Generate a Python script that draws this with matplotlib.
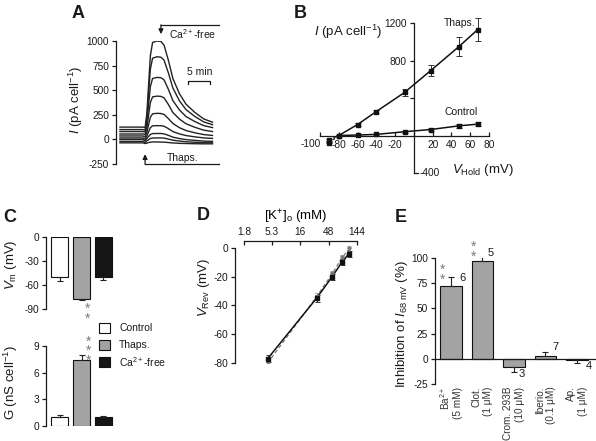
import matplotlib
matplotlib.use('Agg')
import matplotlib.pyplot as plt
from matplotlib.patches import Rectangle

plt.rcParams['font.family'] = ['Liberation Sans', 'DejaVu Sans']
plt.rcParams['mathtext.fontset'] = 'custom'
plt.rcParams['mathtext.rm'] = 'Liberation Sans'
plt.rcParams['mathtext.it'] = 'Liberation Sans:italic'
plt.rcParams['mathtext.bf'] = 'Liberation Sans:bold'
plt.rcParams['axes.unicode_minus'] = False
plt.rcParams['axes.linewidth'] = 0.9
plt.rcParams['xtick.major.width'] = 0.9
plt.rcParams['ytick.major.width'] = 0.9
plt.rcParams['xtick.major.size'] = 3
plt.rcParams['ytick.major.size'] = 3
plt.rcParams['xtick.major.pad'] = 2.5
plt.rcParams['ytick.major.pad'] = 2.0
plt.rcParams['xtick.labelsize'] = 7.3
plt.rcParams['ytick.labelsize'] = 7.3
TXT = '#1a1a1a'
plt.rcParams['text.color'] = TXT
plt.rcParams['xtick.color'] = TXT
plt.rcParams['ytick.color'] = TXT
plt.rcParams['axes.edgecolor'] = TXT

# ---------------- data ----------------
# Panel A: current traces (time in min, current in pA/cell)
t_A = [0, 5.2, 5.7, 6.1, 6.5, 6.9, 7.4, 8.4, 9.3, 10, 11, 12, 13.5, 15, 17, 19, 21]
trace1 = [125, 125, 120, 260, 560, 850, 985, 1000, 995, 958, 802, 620, 464, 357, 274, 208, 175]
trace2 = [100, 100, 95, 211, 470, 714, 825, 840, 835, 805, 674, 523, 392, 302, 233, 178, 150]
trace3 = [80, 80, 75, 162, 355, 537, 619, 630, 627, 605, 508, 395, 299, 232, 181, 140, 120]
trace4 = [55, 55, 48, 113, 248, 375, 432, 440, 437, 422, 354, 274, 206, 159, 123, 94, 80]
trace5 = [35, 35, 25, 70, 150, 226, 260, 265, 263, 254, 211, 162, 119, 90, 67, 49, 40]
trace6 = [15, 15, 2, 34, 78, 119, 138, 140, 139, 134, 109, 80, 56, 39, 26, 15, 10]
trace7 = [0, 0, -15, 9, 30, 50, 59, 60, 60, 56, 41, 23, 8, -2, -10, -17, -20]
trace8 = [-20, -20, -32, -15, -3, 9, 14, 15, 15, 13, 3, -8, -17, -24, -29, -33, -35]
trace9 = [-35, -35, -42, -38, -32, -28, -26, -26, -27, -28, -32, -36, -40, -42, -44, -45, -45]
A_yticks = [-250, 0, 250, 500, 750, 1000]

# Panel B: I-V relation
V_B = [-90, -80, -60, -40, -10, 18, 48, 68]
thaps_I = [-75, 0, 117, 256, 459, 693, 949, 1130]
thaps_err = [10, 10, 15, 20, 35, 60, 100, 120]
ctrl_I = [-45, 0, 5, 12, 40, 64, 103, 121]
ctrl_err = [10, 5, 5, 8, 10, 15, 20, 20]
B_xticks = [-100, -80, -60, -40, -20, 0, 20, 40, 60, 80]

# Panel C: membrane potential and conductance
C_groups = ['Control', 'Thaps.', 'Ca$^{2+}$-free']
C_colors = ['white', '#a3a3a3', '#151515']
vm_vals = [-50, -77, -50]
vm_err = [5, 1.5, 4]
g_vals = [1.0, 7.4, 1.0]
g_err = [0.25, 0.6, 0.12]

# Panel D: reversal potential vs [K+]o
K_D = [4.5, 30, 55, 80, 105]
vrev = [-77, -35, -20, -10, -4]
vrev_err = [2.5, 2.5, 2, 2, 2]
vrev_ref = [-80, -34, -18, -7, -1]
D_xticks = [1.8, 5.3, 16, 48, 144]
D_xticklabels = ['1.8', '5.3', '16', '48', '144']

# Panel E: inhibition
drugs = ['Ba$^{2+}$\n(5 mM)', 'Clot.\n(1 μM)', 'Crom. 293B\n(10 μM)',
         'Iberio.\n(0.1 μM)', 'Ap.\n(1 μM)']
inhib = [72, 97, -8, 3, -1]
inhib_err = [9, 4, 5, 4, 3]
n_vals = ['6', '5', '3', '7', '4']

# ---------------- figure ----------------
W, H = 596, 441
fig = plt.figure(figsize=(W / 100, H / 100), dpi=100)


def add_ax(l, t, r, b):
    return fig.add_axes([l / W, 1 - b / H, (r - l) / W, (b - t) / H])


def fx(x):
    return x / W


def fy(y):
    return 1 - y / H


def ylab(x, y, s):
    fig.text(fx(x), fy(y), s, rotation=90, ha='center', va='center', fontsize=9.5)


STAR = '#7a7a7a'

# Panel letters
for lab, x, y in [('A', 78, 14), ('B', 300, 13), ('C', 10, 218), ('D', 203, 216), ('E', 401, 217)]:
    fig.text(fx(x), fy(y), lab, fontsize=13, fontweight='bold', ha='center', va='center')

# ---- Panel A ----
axA = add_ax(116, 41, 220, 164)
for tr in [trace1, trace2, trace3, trace4, trace5, trace6, trace7, trace8, trace9]:
    axA.plot(t_A, tr, color='#222222', lw=1.0)
axA.set_xlim(-0.9, 22.7)
axA.set_ylim(-250, 1000)
for s in ['top', 'right', 'bottom']:
    axA.spines[s].set_visible(False)
axA.set_xticks([])
axA.set_yticks(A_yticks)
axA.set_yticklabels([str(v) for v in A_yticks])
ylab(76, 100, r'$I$ (pA cell$^{-1}$)')
# Ca-free bar
axA.plot([9.3, 22.5], [1162, 1162], color=TXT, lw=0.9, clip_on=False)
axA.annotate('', xy=(9.3, 1070), xytext=(9.3, 1165), annotation_clip=False,
             arrowprops=dict(arrowstyle='-|>', color=TXT, lw=0.9, mutation_scale=7, shrinkA=0, shrinkB=0))
axA.text(11.2, 1075, 'Ca$^{2+}$-free', fontsize=7.5, ha='left', va='center')
# Thaps bar
axA.plot([5.7, 22.5], [-250, -250], color=TXT, lw=0.9, clip_on=False)
axA.annotate('', xy=(5.7, -150), xytext=(5.7, -253), annotation_clip=False,
             arrowprops=dict(arrowstyle='-|>', color=TXT, lw=0.9, mutation_scale=7, shrinkA=0, shrinkB=0))
axA.text(10.7, -185, 'Thaps.', fontsize=7.5, ha='left', va='center')
# scale bar
axA.plot([15.5, 15.5, 20.5, 20.5], [566, 596, 596, 566], color=TXT, lw=0.9, clip_on=False)
axA.text(18, 635, '5 min', fontsize=7.5, ha='center', va='bottom')

# ---- Panel B ----
axB = add_ax(320, 23, 489, 173)
axB.set_xlim(-100, 80)
axB.set_ylim(-400, 1200)
axB.spines['left'].set_position(('data', 0))
axB.spines['bottom'].set_position(('data', 0))
axB.spines['top'].set_visible(False)
axB.spines['right'].set_visible(False)
axB.set_xticks(B_xticks)
axB.set_xticklabels(['' if v in (0, -100) else str(v) for v in B_xticks])
axB.tick_params(axis='x', direction='in', length=3, pad=3.5)
axB.text(-99, -38, '-100', fontsize=7.3, ha='right', va='top')
axB.set_yticks([400, 800, 1200])
axB.set_yticklabels(['', '800', '1200'])
axB.tick_params(axis='y', direction='out', length=3)
axB.plot([0, 4], [-400, -400], color=TXT, lw=0.9, clip_on=False)
axB.text(6, -400, '-400', fontsize=7.3, ha='left', va='center')
axB.plot(V_B[1:], thaps_I[1:], color='#111111', lw=1.1)
axB.plot(V_B[:2], thaps_I[:2], color='#111111', lw=0.9, ls=(0, (2, 1.5)))
axB.plot(V_B[1:], ctrl_I[1:], color='#111111', lw=1.1)
axB.plot(V_B[:2], ctrl_I[:2], color='#111111', lw=0.9, ls=(0, (2, 1.5)))
axB.errorbar(V_B, thaps_I, yerr=thaps_err, fmt='s', ms=3.2, color='#111111',
             ecolor='#333333', elinewidth=0.7, capsize=2, capthick=0.7, clip_on=False)
axB.errorbar(V_B, ctrl_I, yerr=ctrl_err, fmt='s', ms=2.6, color='#111111',
             ecolor='#333333', elinewidth=0.7, capsize=2, capthick=0.7, clip_on=False)
axB.text(-70, 1109, r'$I$ (pA cell$^{-1}$)', fontsize=9.5, ha='center', va='center')
axB.text(49, 1195, 'Thaps.', fontsize=7.5, ha='center', va='center')
axB.text(50, 256, 'Control', fontsize=7.5, ha='center', va='center')
axB.text(74, -373, r'$V_{\rm Hold}$ (mV)', fontsize=9.5, ha='center', va='center')

# ---- Panel C ----
xC = [0, 1, 2]
axC1 = add_ax(46, 237, 117, 309)
axC1.bar(xC, vm_vals, width=0.8, color=C_colors, edgecolor='#111111', lw=0.8)
axC1.errorbar(xC, vm_vals, yerr=[vm_err, [0, 0, 0]], fmt='none', ecolor='#222222',
              elinewidth=0.8, capsize=2, capthick=0.8)
axC1.set_xlim(-0.62, 2.62)
axC1.set_ylim(-90, 0)
for s in ['top', 'right', 'bottom']:
    axC1.spines[s].set_visible(False)
axC1.set_xticks([])
axC1.set_yticks([0, -30, -60, -90])
ylab(11, 265, r'$V_{\rm m}$ (mV)')
axC1.text(1.26, -81, '*\n*', fontsize=10, color=STAR, ha='center', va='top',
          linespacing=0.6, clip_on=False)

axC2 = add_ax(46, 346, 117, 426)
axC2.bar(xC, g_vals, width=0.8, color=C_colors, edgecolor='#111111', lw=0.8)
axC2.errorbar(xC, g_vals, yerr=[[0, 0, 0], g_err], fmt='none', ecolor='#222222',
              elinewidth=0.8, capsize=2, capthick=0.8)
axC2.set_xlim(-0.62, 2.62)
axC2.set_ylim(0, 9)
for s in ['top', 'right', 'bottom']:
    axC2.spines[s].set_visible(False)
axC2.set_xticks([])
axC2.set_yticks([0, 3, 6, 9])
ylab(11, 383, 'G (nS cell$^{-1}$)')
axC2.text(1.31, 10.3, '*\n*\n*', fontsize=10, color=STAR, ha='center', va='top',
          linespacing=0.6, clip_on=False)

# legend
for i, (lab, c) in enumerate(zip(C_groups, C_colors)):
    top = 323 + 17 * i
    fig.patches.append(Rectangle((fx(99), fy(top + 10)), 11 / W, 10 / H, transform=fig.transFigure,
                                 facecolor=c, edgecolor='#111111', lw=0.8))
    fig.text(fx(119), fy(top + 5), lab, fontsize=7.5, ha='left', va='center')

# ---- Panel D ----
axD = add_ax(235, 241, 357, 363)
axD.set_xscale('log')
axD.set_xlim(1.27, 144)
axD.set_ylim(-80, 4.8)
axD.spines['right'].set_visible(False)
axD.spines['bottom'].set_visible(False)
axD.spines['left'].set_bounds(-80, 0)
axD.spines['top'].set_bounds(1.8, 144)
axD.xaxis.tick_top()
axD.xaxis.set_label_position('top')
axD.set_xticks(D_xticks)
axD.set_xticklabels(D_xticklabels)
axD.minorticks_off()
axD.tick_params(axis='x', direction='in', length=3, pad=3)
axD.set_yticks([0, -20, -40, -60, -80])
axD.set_xlabel('[K$^{+}$]$_{\\rm o}$ (mM)', fontsize=9.5, labelpad=5)
ylab(204, 287, r'$V_{\rm Rev}$ (mV)')
axD.plot(K_D, vrev_ref, color='#777777', lw=0.9, ls=(0, (3, 2)))
axD.errorbar(K_D, vrev_ref, yerr=vrev_err, fmt='v', ms=2.5, color='#777777',
             ecolor='#888888', elinewidth=0.6, capsize=1.5, capthick=0.6)
axD.plot(K_D, vrev, color='#111111', lw=1.1)
axD.errorbar(K_D, vrev, yerr=vrev_err, fmt='s', ms=3, color='#111111',
             ecolor='#333333', elinewidth=0.7, capsize=1.8, capthick=0.7)

# ---- Panel E ----
xE = list(range(len(drugs)))
axE = add_ax(435, 258, 596, 384)
axE.bar(xE, inhib, width=0.68, color='#a3a3a3', edgecolor='#111111', lw=0.8)
up = [e if v >= 0 else 0 for v, e in zip(inhib, inhib_err)]
dn = [e if v < 0 else 0 for v, e in zip(inhib, inhib_err)]
axE.errorbar(xE, inhib, yerr=[dn, up], fmt='none', ecolor='#222222',
             elinewidth=0.8, capsize=2.2, capthick=0.8)
axE.set_xlim(-0.5, 4.6)
axE.set_ylim(-25, 100)
axE.spines['top'].set_visible(False)
axE.spines['right'].set_visible(False)
axE.spines['bottom'].set_position(('data', 0))
axE.set_xticks([])
axE.set_yticks([-25, 0, 25, 50, 75, 100])
ylab(402, 324, r'Inhibition of $I_{\rm 68\ mV}$ (%)')
for i, lab in enumerate(drugs):
    axE.text(i, -27.5, lab, rotation=90, ha='center', va='top', ma='right',
             fontsize=7.2, color='#333333', clip_on=False)
n_pos = [(0.27, 80), (1.18, 105), (2.15, -15), (3.23, 12), (4.27, -7)]
for (xn, yn), n in zip(n_pos, n_vals):
    axE.text(xn, yn, n, fontsize=8, ha='left', va='center')
for xs, ys in [(-0.27, 95), (0.73, 118)]:
    axE.text(xs, ys, '*\n*', fontsize=10, color=STAR, ha='center', va='top',
             linespacing=0.6, clip_on=False)

fig.savefig('out.png', dpi=100)
